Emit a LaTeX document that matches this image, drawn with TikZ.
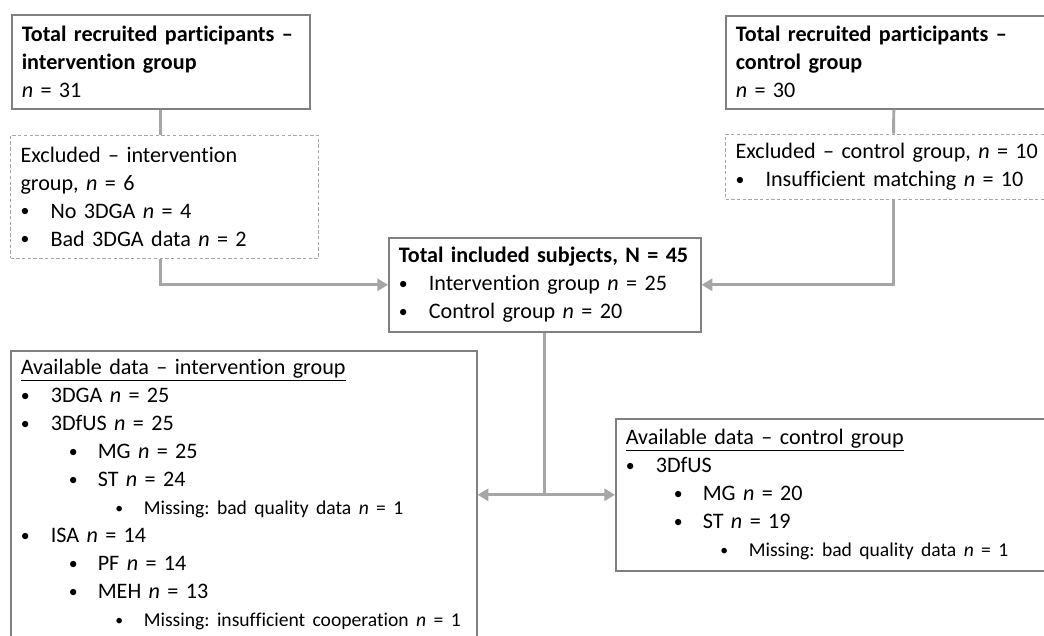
\documentclass[tikz,border=0pt]{standalone}
\usepackage{fontspec}
\setmainfont{Carlito}[Ligatures={NoCommon}]
\usepackage{xcolor}
\usepackage{tikz}
\usetikzlibrary{shapes,arrows,positioning,calc,arrows.meta}
\frenchspacing

\definecolor{boxgray}{HTML}{808080}
\definecolor{linegray}{HTML}{A6A6A6}

% bullet levels
\newcommand{\blt}{\raisebox{0.12ex}{\scalebox{0.8}{\textbullet}}}
\newcommand{\lvone}[1]{\makebox[22.5pt][l]{\blt}#1}
\newcommand{\lvtwo}[1]{\hspace*{36pt}\makebox[21.75pt][l]{\blt}#1}
\newcommand{\lvthree}[1]{{\fontsize{14.7}{21}\selectfont\hspace*{71pt}\makebox[21.25pt][l]{\blt}#1}}
\newcommand{\nn}{\textit{n}}

\tikzset{
  box/.style={draw=boxgray, line width=1.2pt, inner xsep=7.5pt, inner ysep=0pt,
    align=left, anchor=north west, font=\fontsize{16.6}{21}\selectfont},
  exclbox/.style={box, draw=linegray, line width=0.8pt, dash pattern=on 2.5pt off 1.8pt},
  link/.style={draw=linegray, line width=2.2pt},
  arrow/.style={link, -{Triangle[length=8pt,width=9pt]}}
}

\begin{document}
\begin{tikzpicture}[x=0.75pt, y=-0.75pt]
    \clip (0,0) rectangle (1044,635);

    % Intervention branch
    \node [box, text width=208.5pt, minimum height=70.5pt] at (11,14) (recr_int)
      {\textbf{Total recruited participants –}\\\textbf{intervention group}\\\nn{} = 31};
    \node [exclbox, below=18.75pt of recr_int.south west, anchor=north west,
      text width=216pt, minimum height=92.25pt, xshift=-0.75pt] (excl_int)
      {Excluded – intervention\\group, \nn{} = 6\\\lvone{No 3DGA \nn{} = 4}\\\lvone{Bad 3DGA data \nn{} = 2}};

    % Control branch
    \node [box, text width=237pt, minimum height=69.75pt] at (725,15) (recr_ctrl)
      {\textbf{Total recruited participants –}\\\textbf{control group}\\\nn{} = 30};
    \node [exclbox, below=18pt of recr_ctrl.south west, anchor=north west,
      text width=237pt, minimum height=48.75pt] (excl_ctrl)
      {Excluded – control group, \nn{} = 10\\\lvone{Insufficient matching \nn{} = 10}};

    % Included
    \node [box, text width=219pt, minimum height=70.5pt] at (388,237) (incl)
      {\textbf{Total included subjects, N = 45}\\\lvone{Intervention group \nn{} = 25}\\\lvone{Control group \nn{} = 20}};

    % Available data
    \node [box, text width=334.5pt, minimum height=215.25pt] at (10,350) (data_int)
      {\underline{Available data – intervention group}\\
       \lvone{3DGA \nn{} = 25}\\
       \lvone{3DfUS \nn{} = 25}\\
       \lvtwo{MG \nn{} = 25}\\
       \lvtwo{ST \nn{} = 24}\\
       \lvthree{Missing: bad quality data \nn{} = 1}\\
       \lvone{ISA \nn{} = 14}\\
       \lvtwo{PF \nn{} = 14}\\
       \lvtwo{MEH \nn{} = 13}\\
       \lvthree{Missing: insufficient cooperation \nn{} = 1}};
    \node [box, text width=319.5pt, minimum height=114pt] at (615,418) (data_ctrl)
      {\underline{Available data – control group}\\
       \lvone{3DfUS}\\
       \lvtwo{MG \nn{} = 20}\\
       \lvtwo{ST \nn{} = 19}\\
       \lvthree{Missing: bad quality data \nn{} = 1}};

    % Connectors
    \draw [link] (recr_int.south) -- (recr_int.south |- excl_int.north);
    \draw [arrow] (recr_int.south |- excl_int.south) |- (incl.west);
    \draw [link] (recr_ctrl.south) -- (excl_ctrl.north);
    \draw [arrow] (excl_ctrl.south) |- (incl.east);
    \coordinate (split) at (incl.south |- data_ctrl.west);
    \draw [link] (incl.south) -- (split);
    \draw [arrow] (split) -- (split -| data_int.east);
    \draw [arrow] (split) -- (data_ctrl.west);

\end{tikzpicture}
\end{document}
